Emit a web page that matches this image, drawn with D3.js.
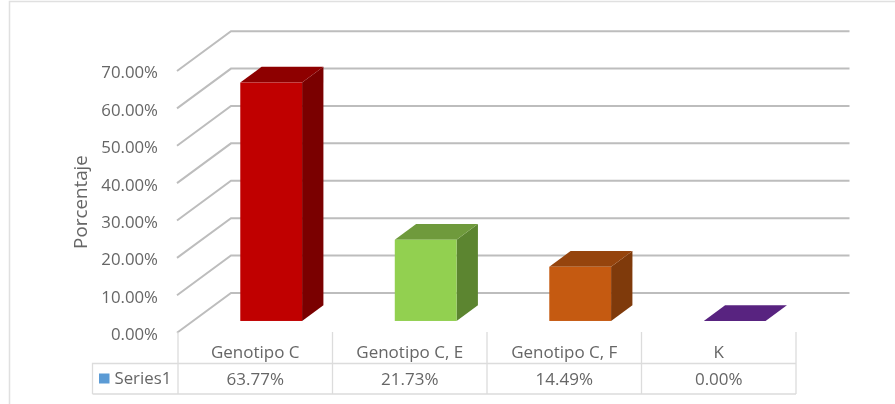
<!DOCTYPE html>
<html>
<head>
<meta charset="utf-8">
<script src="https://cdn.jsdelivr.net/npm/d3@7"></script>
<style>
  html, body { margin: 0; padding: 0; background: #fff; overflow: hidden; }
  text { font-family: "Open Sans", sans-serif; fill: #666; }
</style>
</head>
<body>
<div id="chart"></div>
<script>
const categories = ["Genotipo C", "Genotipo C, E", "Genotipo C, F", "K"];
const values = [63.77, 21.73, 14.49, 0];
const valueLabels = ["63.77%", "21.73%", "14.49%", "0.00%"];
const ticks = [0, 10, 20, 30, 40, 50, 60, 70];
const seriesName = "Series1";
const frontColors = ["#c00000", "#92d050", "#c55a11", "#582380"];
const topColors = ["#8e0000", "#6f9a3c", "#95440d", "#582380"];
const sideColors = ["#7a0000", "#5c8530", "#7f3a0b", "#582380"];

const width = 895;
const height = 404;

const svg = d3.select("#chart")
  .append("svg")
  .attr("width", width)
  .attr("height", height)
  .style("display", "block")
  .style("filter", "blur(0.4px)");

const x = d3.scaleBand()
  .domain(categories)
  .range([178, 796]);

const y = d3.scaleLinear()
  .domain([0, 70])
  .range([332.7, 71]);

// oblique projection: z = 0 is the front of the floor, z = 1 the back wall
const depthX = 54;
const depthY = 39.8;
const px = (xVal, z) => xVal + z * depthX;
const py = (v, z) => y(v) - z * depthY;

// chart frame
svg.append("path")
  .attr("d", `M9.5,${height}V1.5H${width}`)
  .attr("fill", "none")
  .attr("stroke", "#e0e0e0")
  .attr("stroke-width", 1.5);

// gridlines: diagonal on the side wall, then along the back wall
svg.append("g")
  .selectAll("path")
  .data(ticks)
  .join("path")
  .attr("d", d => `M${px(177, 0)},${py(d, 0)}L${px(177, 1)},${py(d, 1)}H849.5`)
  .attr("fill", "none")
  .attr("stroke", "#bdbdbd")
  .attr("stroke-width", 2);

// y axis labels
const yAxis = svg.append("g")
  .attr("transform", "translate(177,1.5)")
  .call(d3.axisLeft(y)
    .tickValues(ticks)
    .tickSize(0)
    .tickPadding(19)
    .tickFormat(d => d.toFixed(2) + "%"));
yAxis.select(".domain").remove();
yAxis.selectAll("text")
  .style("font-size", "16.8px")
  .style("font-family", '"Open Sans", sans-serif')
  .attr("fill", "#666");

svg.append("text")
  .attr("transform", "translate(87,202) rotate(-90)")
  .attr("text-anchor", "middle")
  .style("font-size", "18.8px")
  .text("Porcentaje");

// 3D bars
const barW = x.bandwidth() * 0.4;
const zFront = 0.295;
const zBack = 0.69;
const left = d => x(d) + (x.bandwidth() - barW) / 2;
const right = d => left(d) + barW;

const bars = svg.append("g")
  .selectAll("g")
  .data(categories)
  .join("g");

bars.append("path")
  .attr("fill", (d, i) => sideColors[i])
  .attr("d", (d, i) => {
    const v = values[i];
    return `M${px(right(d), zFront)},${py(0, zFront)}`
      + `L${px(right(d), zBack)},${py(0, zBack)}`
      + `L${px(right(d), zBack)},${py(v, zBack)}`
      + `L${px(right(d), zFront)},${py(v, zFront)}Z`;
  });

bars.append("path")
  .attr("fill", (d, i) => topColors[i])
  .attr("d", (d, i) => {
    const v = values[i];
    return `M${px(left(d), zFront)},${py(v, zFront)}`
      + `L${px(left(d), zBack)},${py(v, zBack)}`
      + `L${px(right(d), zBack)},${py(v, zBack)}`
      + `L${px(right(d), zFront)},${py(v, zFront)}Z`;
  });

bars.append("rect")
  .attr("fill", (d, i) => frontColors[i])
  .attr("x", d => px(left(d), zFront))
  .attr("width", barW)
  .attr("y", (d, i) => py(values[i], zFront))
  .attr("height", (d, i) => py(0, zFront) - py(values[i], zFront));

// data table under the chart
const tableTop = 332;
const rowLine = 363.5;
const tableBottom = 394;
const tableLeft = 92.5;
const gridColor = "#dcdcdc";

const tableLines = svg.append("g")
  .attr("stroke", gridColor)
  .attr("stroke-width", 1.3);

const colEdges = categories.map(d => x(d)).concat(x.range()[1]);

tableLines.selectAll("line.col")
  .data(colEdges)
  .join("line")
  .attr("class", "col")
  .attr("x1", d => d)
  .attr("x2", d => d)
  .attr("y1", tableTop)
  .attr("y2", tableBottom);

tableLines.append("path")
  .attr("fill", "none")
  .attr("d", `M${tableLeft},${tableBottom}V${rowLine}H${x.range()[1]}M${tableLeft},${tableBottom}H${x.range()[1]}`);

svg.append("g")
  .selectAll("text")
  .data(categories)
  .join("text")
  .attr("x", d => x(d) + x.bandwidth() / 2)
  .attr("y", 358)
  .attr("text-anchor", "middle")
  .style("font-size", "17px")
  .text(d => d);

svg.append("g")
  .selectAll("text")
  .data(valueLabels)
  .join("text")
  .attr("x", (d, i) => x(categories[i]) + x.bandwidth() / 2)
  .attr("y", 385)
  .attr("text-anchor", "middle")
  .style("font-size", "17px")
  .text(d => d);

svg.append("rect")
  .attr("x", 99)
  .attr("y", 373.5)
  .attr("width", 10.5)
  .attr("height", 10)
  .attr("fill", "#5b9bd5");

svg.append("text")
  .attr("x", 114.5)
  .attr("y", 384)
  .style("font-size", "16.8px")
  .text(seriesName);
</script>
</body>
</html>
